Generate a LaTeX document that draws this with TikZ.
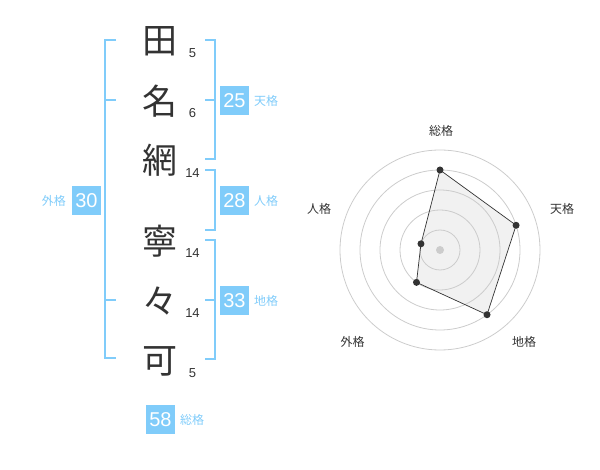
\documentclass[tikz,border=0pt]{standalone}
\usepackage{fontspec}
\setmainfont{Liberation Sans}
\newfontfamily\cjk{Noto Sans CJK JP}
\definecolor{bl}{HTML}{80CCFA}
\definecolor{txt}{HTML}{333333}
\definecolor{ring}{HTML}{CCCCCC}
\definecolor{area}{HTML}{F1F1F1}
\begin{document}
\begin{tikzpicture}[x=1pt,y=-1pt,
  kanji/.style={font=\cjk\fontsize{35}{35}\selectfont, text=txt, inner sep=0pt},
  strokes/.style={font=\fontsize{13}{13}\selectfont, text=txt, inner sep=0pt},
  score/.style={fill=bl, text=white, minimum width=29pt, minimum height=29pt, inner sep=0pt, font=\fontsize{20}{20}\selectfont},
  caption/.style={font=\cjk\fontsize{12}{12}\selectfont, text=bl, inner sep=0pt},
  brk/.style={draw=bl, line width=2pt},
  axislbl/.style={font=\cjk\fontsize{12}{12}\selectfont, text=txt, inner sep=0pt},
  ringc/.style={draw=ring, line width=0.8pt},
  dot/.style={circle, fill=txt, inner sep=0pt, minimum size=7pt}]
\useasboundingbox (0,0) rectangle (600,470);

% name characters
\node[kanji] (k1) at (159.5,41) {田};
\node[kanji] (k2) at (159.5,101) {名};
\node[kanji] (k3) at (159.5,160) {網};
\node[kanji] (k4) at (159.5,241) {寧};
\node[kanji] (k5) at (159.5,301) {々};
\node[kanji] (k6) at (159.5,361) {可};

% stroke counts
\node[strokes] (s1) at (192.5,53) {5};
\node[strokes] (s2) at (192.5,113) {6};
\node[strokes] (s3) at (192.5,173) {14};
\node[strokes] (s4) at (192.5,253) {14};
\node[strokes] (s5) at (192.5,313) {14};
\node[strokes] (s6) at (192.5,373) {5};

% brackets
\draw[brk] (116,40) -- (104.5,40) -- (104.5,358) -- (116,358);
\draw[brk] (104.5,100) -- (116,100);
\draw[brk] (104.5,300) -- (116,300);
\draw[brk] (205,40) -- (215,40) -- (215,159) -- (205,159);
\draw[brk] (205,100) -- (215,100);
\draw[brk] (205,170) -- (215,170) -- (215,230) -- (205,230);
\draw[brk] (205,240) -- (215,240) -- (215,359) -- (205,359);
\draw[brk] (205,300) -- (215,300);

% scores
\node[score] (b25) at (234.5,100.5) {25};
\node[caption, anchor=west] (c25) at (254,100.5) {天格};
\node[score] (b28) at (234.5,200.5) {28};
\node[caption, anchor=west] (c28) at (254,200.5) {人格};
\node[score] (b33) at (234.5,300.5) {33};
\node[caption, anchor=west] (c33) at (254,300.5) {地格};
\node[score] (b30) at (86.5,200.5) {30};
\node[caption, anchor=east] (c30) at (66,200.5) {外格};
\node[score] (b58) at (160.5,419.5) {58};
\node[caption, anchor=west] (c58) at (180,419.5) {総格};

% radar chart
\coordinate (O) at (440,250);
\path (O) ++(0,-80) coordinate (p1)
      (O) ++(76.08,-24.72) coordinate (p2)
      (O) ++(47.02,64.72) coordinate (p3)
      (O) ++(-23.51,32.36) coordinate (p4)
      (O) ++(-19.02,-6.18) coordinate (p5);
\fill[area] (p1) -- (p2) -- (p3) -- (p4) -- (p5) -- cycle;
\foreach \r in {20,40,60,80,100}{
  \draw[ringc] (O) circle[radius=\r];
}
\fill[ring] (O) circle[radius=4];
\draw[txt, line width=0.7pt] (p1) -- (p2) -- (p3) -- (p4) -- (p5) -- cycle;
\foreach \p in {p1,p2,p3,p4,p5}{ \node[dot] at (\p) {}; }

\node[axislbl] (a1) at (441,130.5) {総格};
\node[axislbl] (a2) at (562,209) {天格};
\node[axislbl] (a3) at (524,342) {地格};
\node[axislbl] (a4) at (352.5,342) {外格};
\node[axislbl] (a5) at (319,209) {人格};
\end{tikzpicture}
\end{document}
